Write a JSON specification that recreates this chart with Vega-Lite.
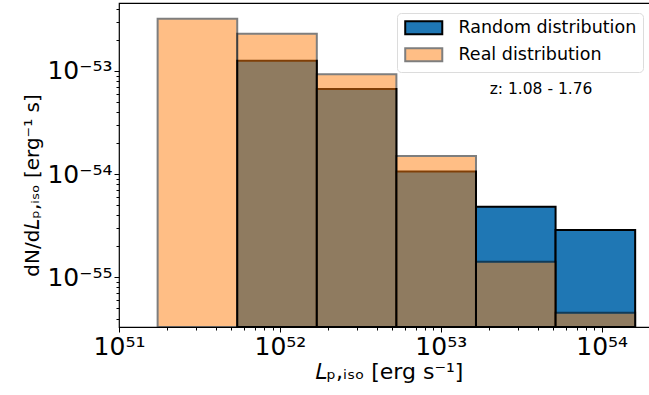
{
  "$schema": "https://vega.github.io/schema/vega-lite/v6.json",
  "autosize": "none",
  "padding": {"left": 119, "top": 3, "right": 0, "bottom": 68},
  "width": 539,
  "height": 324,
  "background": "white",
  "config": {
    "font": "DejaVu Sans",
    "view": {"stroke": "black", "strokeWidth": 1.2},
    "axis": {"domain": false, "grid": false, "tickColor": "black", "labelColor": "black", "titleColor": "black", "labelFont": "DejaVu Sans", "titleFont": "DejaVu Sans", "titleFontWeight": "normal", "labelOverlap": false, "labelFlush": false}
  },
  "data": {
    "values": [
      {"lo": 5.43e51, "hi": 1.696e52, "series": "Random distribution", "value": 1.25e-53},
      {"lo": 1.696e52, "hi": 5.298e52, "series": "Random distribution", "value": 6.68e-54},
      {"lo": 5.298e52, "hi": 1.655e53, "series": "Random distribution", "value": 1.06e-54},
      {"lo": 1.655e53, "hi": 5.17e53, "series": "Random distribution", "value": 4.84e-55},
      {"lo": 5.17e53, "hi": 1.615e54, "series": "Random distribution", "value": 2.88e-55},
      {"lo": 1.738e51, "hi": 5.43e51, "series": "Real distribution", "value": 3.2e-53},
      {"lo": 5.43e51, "hi": 1.696e52, "series": "Real distribution", "value": 2.29e-53},
      {"lo": 1.696e52, "hi": 5.298e52, "series": "Real distribution", "value": 9.25e-54},
      {"lo": 5.298e52, "hi": 1.655e53, "series": "Real distribution", "value": 1.5e-54},
      {"lo": 1.655e53, "hi": 5.17e53, "series": "Real distribution", "value": 1.42e-55},
      {"lo": 5.17e53, "hi": 1.615e54, "series": "Real distribution", "value": 4.54e-56}
    ]
  },
  "layer": [
    {
      "mark": {"type": "bar", "strokeWidth": 2, "stroke": "black", "clip": true},
      "encoding": {
        "x": {
          "field": "lo", "type": "quantitative",
          "scale": {"type": "log", "domain": [1e51, 2.239e54], "nice": false},
          "axis": {
            "title": "𝐿ₚ,ᵢₛₒ [erg s⁻¹]",
            "titleFontSize": 22,
            "titlePadding": 2,
            "labelFontSize": 25,
            "labelPadding": 2,
            "values": [1e51, 2e51, 3e51, 4e51, 5e51, 6e51, 7e51, 8e51, 9e51, 1e52, 2e52, 3e52, 4e52, 5e52, 6e52, 7e52, 8e52, 9e52, 1e53, 2e53, 3e53, 4e53, 5e53, 6e53, 7e53, 8e53, 9e53, 1e54, 2e54],
            "tickSize": {"condition": {"test": "abs(log(datum.value)/LN10 - round(log(datum.value)/LN10)) < 0.01", "value": 5}, "value": 3},
            "labelExpr": "abs(log(datum.value)/LN10 - round(log(datum.value)/LN10)) < 0.01 ? '10' + (round(log(datum.value)/LN10) == 51 ? '⁵¹' : round(log(datum.value)/LN10) == 52 ? '⁵²' : round(log(datum.value)/LN10) == 53 ? '⁵³' : '⁵⁴') : ''"
          }
        },
        "x2": {"field": "hi"},
        "y": {
          "field": "value", "type": "quantitative",
          "scale": {"type": "log", "domain": [3.31e-56, 4.54e-53], "nice": false},
          "axis": {
            "title": "dN/d𝐿ₚ,ᵢₛₒ  [erg⁻¹ s]",
            "titleFontSize": 20,
            "titlePadding": 4,
            "titleY": 182,
            "labelFontSize": 25,
            "labelPadding": 2,
            "values": [4e-56, 5e-56, 6e-56, 7e-56, 8e-56, 9e-56, 1e-55, 2e-55, 3e-55, 4e-55, 5e-55, 6e-55, 7e-55, 8e-55, 9e-55, 1e-54, 2e-54, 3e-54, 4e-54, 5e-54, 6e-54, 7e-54, 8e-54, 9e-54, 1e-53, 2e-53, 3e-53, 4e-53],
            "tickSize": {"condition": {"test": "abs(log(datum.value)/LN10 - round(log(datum.value)/LN10)) < 0.01", "value": 5}, "value": 3},
            "labelExpr": "abs(log(datum.value)/LN10 - round(log(datum.value)/LN10)) < 0.01 ? '10' + (round(log(datum.value)/LN10) == -53 ? '⁻⁵³' : round(log(datum.value)/LN10) == -54 ? '⁻⁵⁴' : '⁻⁵⁵') : ''"
          }
        },
        "y2": {"datum": 3.31e-56},
        "fill": {
          "field": "series", "type": "nominal",
          "scale": {"domain": ["Random distribution", "Real distribution"], "range": ["#1f77b4", "#ff7f0e"]},
          "legend": {
            "title": null,
            "orient": "none",
            "legendX": 278,
            "legendY": 10,
            "padding": 6,
            "fillColor": "white",
            "strokeColor": "#dcdcdc",
            "cornerRadius": 4,
            "labelFontSize": 17.5,
            "labelFont": "DejaVu Sans",
            "labelColor": "black",
            "labelLimit": 400,
            "symbolType": "M-2.85,-1L2.85,-1L2.85,1L-2.85,1Z",
            "symbolSize": 169,
            "symbolStrokeWidth": 2,
            "symbolStrokeColor": "black",
            "symbolOffset": 12,
            "rowPadding": 5,
            "labelOffset": 26
          }
        },
        "opacity": {
          "field": "series", "type": "nominal",
          "scale": {"domain": ["Random distribution", "Real distribution"], "range": [1, 0.5]}
        }
      }
    },
    {
      "data": {"values": [{}]},
      "mark": {"type": "text", "fontSize": 15.5, "font": "DejaVu Sans", "color": "black"},
      "encoding": {
        "x": {"datum": 4.2e53},
        "y": {"datum": 6.7e-54},
        "text": {"value": "z: 1.08 - 1.76"}
      }
    }
  ]
}
